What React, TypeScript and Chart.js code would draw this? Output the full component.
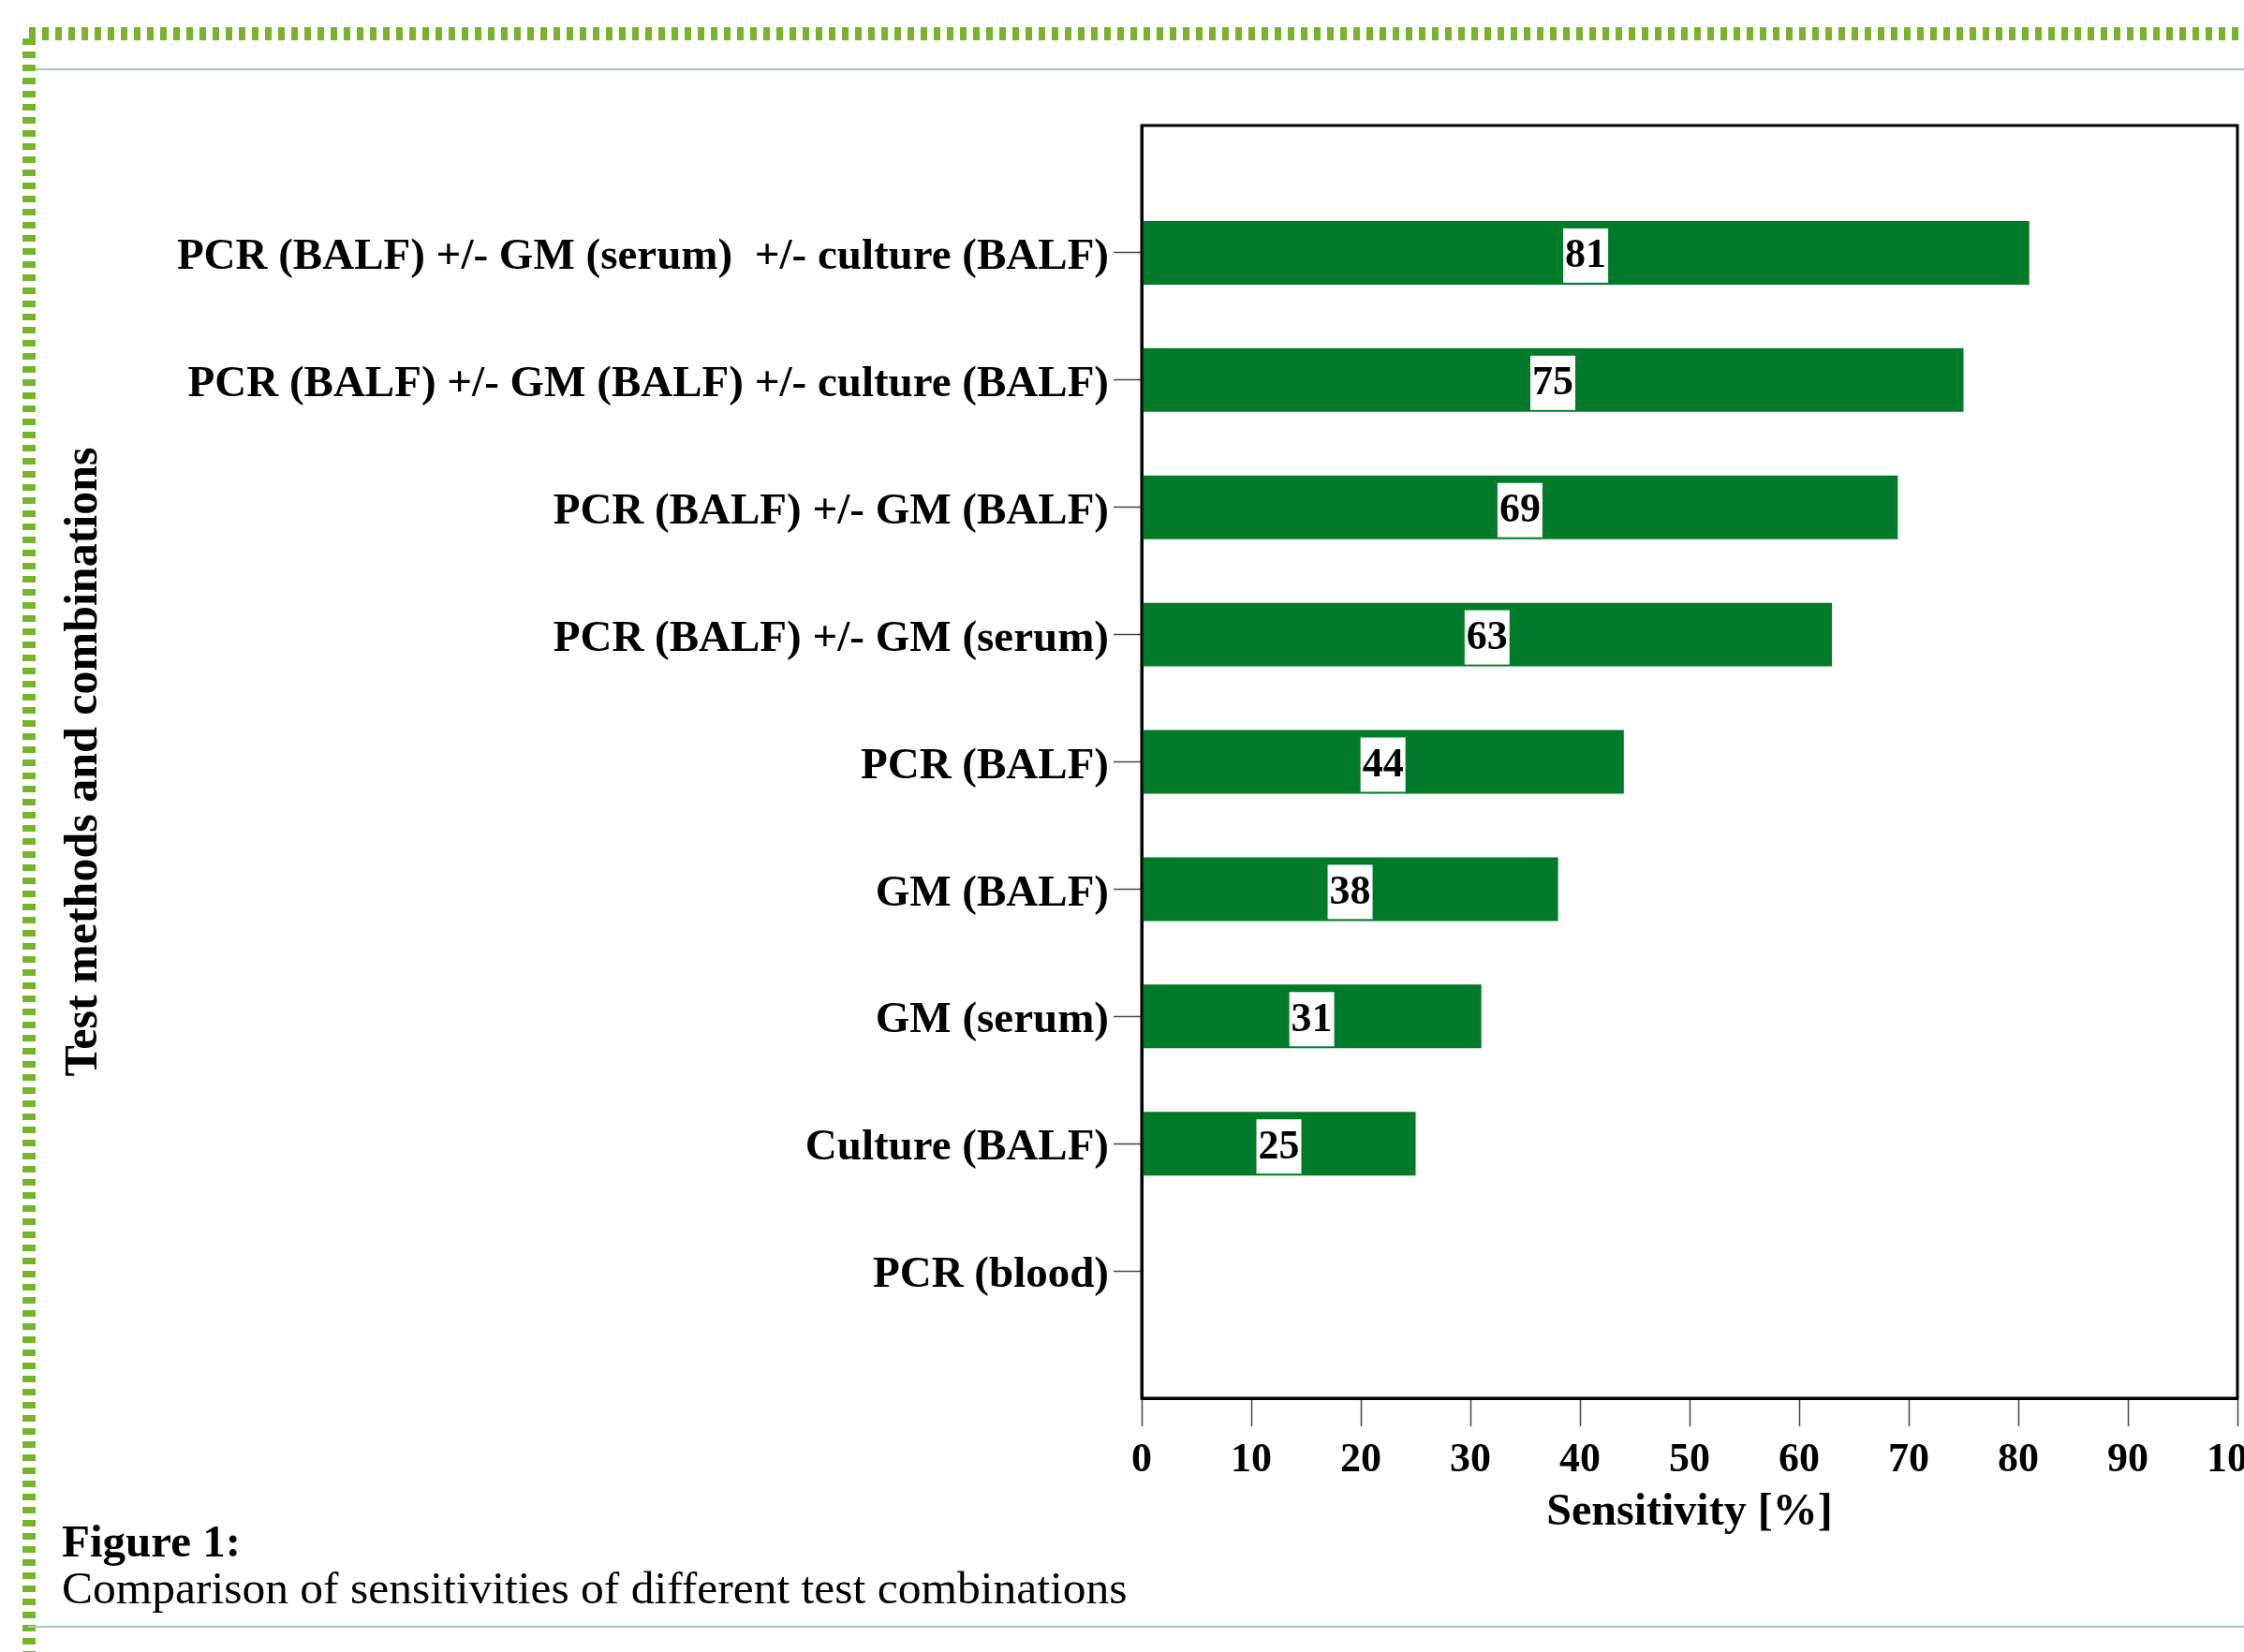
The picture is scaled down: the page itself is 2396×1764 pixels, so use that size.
import React, { useEffect, useRef } from "react";
import { Chart, registerables } from "chart.js";

Chart.register(...registerables);

// ---- data ----
const categories = [
  "PCR (BALF) +/- GM (serum)  +/- culture (BALF)",
  "PCR (BALF) +/- GM (BALF) +/- culture (BALF)",
  "PCR (BALF) +/- GM (BALF)",
  "PCR (BALF) +/- GM (serum)",
  "PCR (BALF)",
  "GM (BALF)",
  "GM (serum)",
  "Culture (BALF)",
  "PCR (blood)",
];
const sensitivity = [81, 75, 69, 63, 44, 38, 31, 25, 0];
const xMin = 0;
const xMax = 100;
const xStep = 10;
const xAxisTitle = "Sensitivity [%]";
const yAxisTitle = "Test methods and combinations";
const captionTitle = "Figure 1:";
const captionText = "Comparison of sensitivities of different test combinations";

// empty slots above and below the categories (the chart leaves one slot of space at each end)
const labels = ["", ...categories, ""];
const values: (number | null)[] = [null, ...sensitivity, null];

const FONT = "'Liberation Serif', 'Times New Roman', serif";
const BAR_GREEN = "#017a29";
const DASH_GREEN = "#76b52a";
const RULE_GREEN = "#a3cbad";

const framePlugin = {
  id: "frameAndLabels",
  afterDatasetsDraw(chart: any) {
    const { ctx, chartArea: a } = chart;
    ctx.save();
    ctx.strokeStyle = "#000";
    ctx.lineWidth = 3;
    ctx.strokeRect(a.left, a.top, a.right - a.left, a.bottom - a.top);

    const meta = chart.getDatasetMeta(0);
    const data = chart.data.datasets[0].data;
    ctx.font = `bold 44px ${FONT}`;
    ctx.textAlign = "center";
    ctx.textBaseline = "middle";
    meta.data.forEach((el: any, i: number) => {
      const v = data[i];
      if (v === null || v === undefined || v === 0) return;
      const { x, y, base } = el.getProps(["x", "y", "base"], true);
      const cx = (x + base) / 2;
      const t = String(v);
      const w = ctx.measureText(t).width + 4;
      ctx.fillStyle = "#fff";
      ctx.fillRect(cx - w / 2, y - 26, w, 58);
      ctx.fillStyle = "#000";
      ctx.fillText(t, cx, y + 4);
    });
    ctx.restore();
  },
};

export default function App() {
  const ref = useRef<HTMLCanvasElement>(null);

  useEffect(() => {
    const canvas = ref.current;
    if (!canvas) return;
    const chart = new Chart(canvas, {
      type: "bar",
      data: {
        labels,
        datasets: [
          {
            data: values,
            backgroundColor: BAR_GREEN,
            borderWidth: 0,
            barPercentage: 0.5,
            categoryPercentage: 1,
          },
        ],
      },
      options: {
        indexAxis: "y",
        animation: false,
        responsive: false,
        maintainAspectRatio: false,
        devicePixelRatio: 1,
        layout: { padding: { top: 134, right: 7, bottom: 71, left: 0 } },
        plugins: {
          legend: { display: false },
          tooltip: { enabled: false },
        },
        scales: {
          x: {
            type: "linear",
            min: xMin,
            max: xMax,
            ticks: {
              stepSize: xStep,
              color: "#000",
              font: { family: FONT, size: 44, weight: "bold" },
              padding: 10,
              maxRotation: 0,
              autoSkip: false,
            },
            grid: {
              drawOnChartArea: false,
              drawTicks: true,
              tickLength: 30,
              tickColor: "#444",
              tickWidth: 1.5,
            },
            border: { display: true, color: "#000", width: 3 },
            title: {
              display: true,
              text: xAxisTitle,
              color: "#000",
              font: { family: FONT, size: 48, weight: "bold" },
              padding: { top: 0, bottom: 49 },
            },
            afterFit: (s: any) => {
              s.height = 200;
              s.paddingLeft = 0;
              s.paddingRight = 0;
            },
          },
          y: {
            type: "category",
            offset: false,
            ticks: {
              color: "#000",
              font: { family: FONT, size: 47, weight: "bold" },
              padding: 5,
              labelOffset: 5,
              autoSkip: false,
            },
            grid: {
              offset: false,
              drawOnChartArea: false,
              drawTicks: true,
              tickLength: 30,
              tickColor: "#444",
              tickWidth: 1.5,
            },
            border: { display: true, color: "#000", width: 3 },
            title: {
              display: true,
              text: yAxisTitle,
              color: "#000",
              font: { family: FONT, size: 50, weight: "bold" },
              padding: { top: 60, bottom: 0 },
            },
            afterBuildTicks: (s: any) => {
              s.ticks = s.ticks.filter(
                (t: any) => t.value > 0 && t.value < labels.length - 1
              );
            },
            afterFit: (s: any) => {
              s.width = 1219;
              s.paddingTop = 0;
              s.paddingBottom = 0;
            },
          },
        },
      } as any,
      plugins: [framePlugin],
    });
    return () => chart.destroy();
  }, []);

  return (
    <div
      style={{
        position: "absolute",
        left: 0,
        top: 0,
        width: 2396,
        height: 1764,
        overflow: "hidden",
        background: "#fff",
      }}
    >
      <div
        style={{
          position: "absolute",
          left: 31,
          top: 29,
          width: 2365,
          height: 14,
          background: `repeating-linear-gradient(to right, ${DASH_GREEN} 0px, ${DASH_GREEN} 7px, transparent 7px, transparent 14px)`,
        }}
      />
      <div
        style={{
          position: "absolute",
          left: 24,
          top: 41,
          width: 14,
          height: 1723,
          background: `repeating-linear-gradient(to bottom, ${DASH_GREEN} 0px, ${DASH_GREEN} 7px, transparent 7px, transparent 14px)`,
        }}
      />
      <div
        style={{
          position: "absolute",
          left: 38,
          top: 73,
          width: 2358,
          height: 2,
          background: RULE_GREEN,
        }}
      />
      <div
        style={{
          position: "absolute",
          left: 30,
          top: 1736,
          width: 2366,
          height: 2,
          background: RULE_GREEN,
        }}
      />
      <canvas
        ref={ref}
        width={2396}
        height={1764}
        style={{ position: "absolute", left: 0, top: 0, width: 2396, height: 1764 }}
      />
      <div
        style={{
          position: "absolute",
          left: 66,
          top: 1621,
          fontFamily: FONT,
          fontSize: 49,
          lineHeight: "49px",
          fontWeight: "bold",
          color: "#000",
          whiteSpace: "nowrap",
        }}
      >
        {captionTitle}
      </div>
      <div
        style={{
          position: "absolute",
          left: 66,
          top: 1671,
          fontFamily: FONT,
          fontSize: 49.5,
          lineHeight: "49px",
          color: "#000",
          whiteSpace: "nowrap",
        }}
      >
        {captionText}
      </div>
    </div>
  );
}
